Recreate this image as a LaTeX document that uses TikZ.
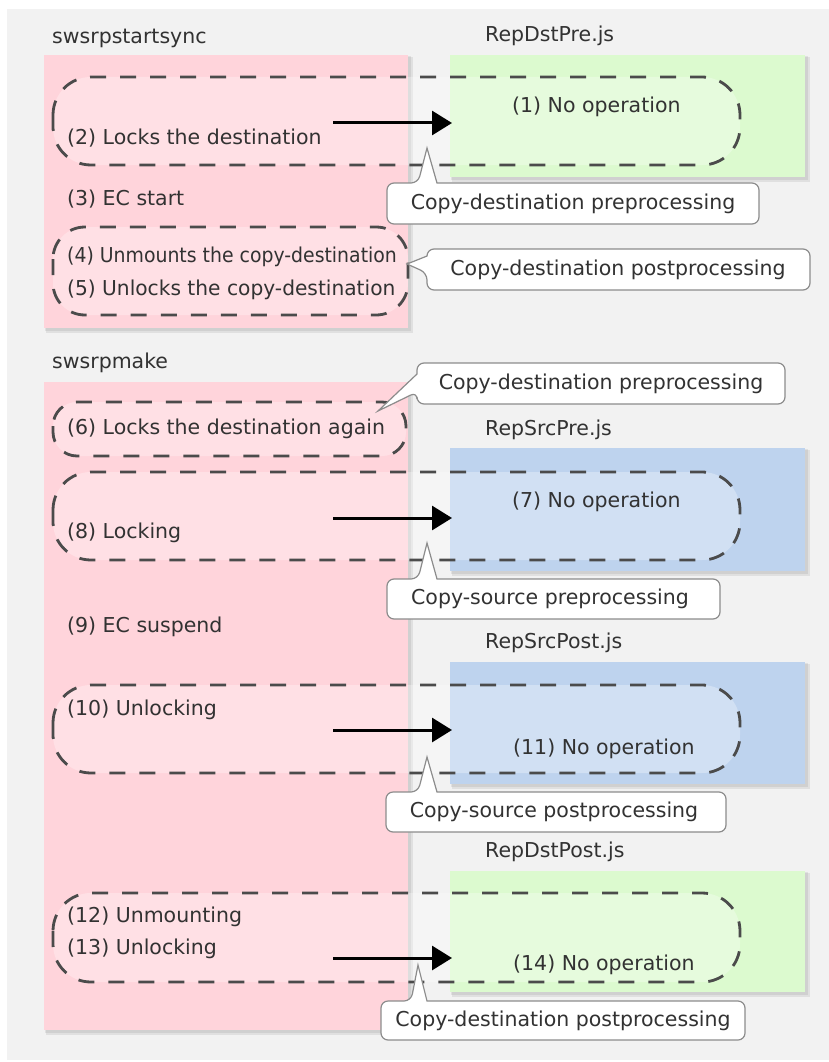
\documentclass[tikz,border=0pt]{standalone}
\usepackage{fontspec}
\setmainfont{DejaVu Sans}
\usetikzlibrary{arrows.meta}
\definecolor{bggray}{RGB}{242,242,242}
\definecolor{pinkc}{RGB}{255,212,219}
\definecolor{greenc}{RGB}{220,250,207}
\definecolor{bluec}{RGB}{190,211,238}
\definecolor{txtc}{RGB}{50,50,50}
\definecolor{dashc}{RGB}{75,75,75}
\definecolor{callc}{RGB}{140,140,140}
\begin{document}
\begin{tikzpicture}[x=1pt,y=-1pt,
  box/.style={draw=none,inner sep=0pt,outer sep=0pt,anchor=north west},
  shad/.style={fill=black,fill opacity=0.07},
  lbl/.style={inner sep=0pt,anchor=west,text=txtc,font=\fontsize{20.5}{24}\selectfont},
  clbl/.style={inner sep=0pt,text=txtc,font=\fontsize{20.5}{24}\selectfont},
  capsule/.style={draw=dashc,line width=2.8pt,dash pattern=on 16pt off 14pt,fill=white,fill opacity=0.3},
  callout/.style={draw=callc,line width=1.2pt,fill=white},
  arr/.style={line width=3pt,-{Triangle[length=20pt,width=24pt]}}
]
\useasboundingbox (0,0) rectangle (829,1062);
\fill[white] (0,0) rectangle (829,1062);
\fill[bggray] (7,9) rectangle (829,1060);

% shadows
\foreach \a/\b/\c/\d in {44/55/408/328, 44/382/408/1030, 450/55/805/177, 450/448/805/571, 450/662/805/784, 450/871/805/992}{
  \fill[shad] (\a+2,\b+2) rectangle (\c+5,\d+5);
  \fill[shad] (\a+1,\b+1) rectangle (\c+3,\d+3);
}

% boxes
\node[box,fill=pinkc,minimum width=364pt,minimum height=273pt] (pk1) at (44,55) {};
\node[box,fill=pinkc,minimum width=364pt,minimum height=648pt] (pk2) at (44,382) {};
\node[box,fill=greenc,minimum width=355pt,minimum height=122pt] (gr1) at (450,55) {};
\node[box,fill=bluec,minimum width=355pt,minimum height=123pt] (bl1) at (450,448) {};
\node[box,fill=bluec,minimum width=355pt,minimum height=122pt] (bl2) at (450,662) {};
\node[box,fill=greenc,minimum width=355pt,minimum height=121pt] (gr2) at (450,871) {};

% titles
\node[lbl] (ttl1) at (52,38) {swsrpstartsync};
\node[lbl] (ttl2) at (485,36) {RepDstPre.js};
\node[lbl] (ttl3) at (52,363) {swsrpmake};
\node[lbl] (ttl4) at (485,430) {RepSrcPre.js};
\node[lbl] (ttl5) at (485,643) {RepSrcPost.js};
\node[lbl] (ttl6) at (485,852) {RepDstPost.js};

% capsules
\draw[capsule,rounded corners=38pt] (53,77) rectangle (740,165);
\draw[capsule,rounded corners=32pt] (53,227) rectangle (408,315);
\draw[capsule,rounded corners=24pt] (53,402) rectangle (406,456);
\draw[capsule,rounded corners=38pt] (53,472) rectangle (740,560);
\draw[capsule,rounded corners=38pt] (53,685) rectangle (740,773);
\draw[capsule,rounded corners=38pt] (53,893) rectangle (740,982);

% texts
\node[lbl] (s2) at (67,138) {(2) Locks the destination};
\node[lbl] (s1) at (512,107) {(1) No operation};
\node[lbl] (s3) at (67,199) {(3) EC start};
\node[lbl] (s4) at (67,257) {\scalebox{0.92}[1]{(4) Unmounts the copy-destination}};
\node[lbl] (s5) at (67,290) {\scalebox{0.985}[1]{(5) Unlocks the copy-destination}};
\node[lbl] (s6) at (67,429) {(6) Locks the destination again};
\node[lbl] (s7) at (512,502) {(7) No operation};
\node[lbl] (s8) at (67,533) {(8) Locking};
\node[lbl] (s9) at (67,627) {(9) EC suspend};
\node[lbl] (s10) at (67,710) {(10) Unlocking};
\node[lbl] (s11) at (513,749) {(11) No operation};
\node[lbl] (s12) at (67,917) {(12) Unmounting};
\node[lbl] (s13) at (67,949) {(13) Unlocking};
\node[lbl] (s14) at (513,965) {(14) No operation};

% arrows
\coordinate (a1s) at (333,123); \coordinate (a1e) at (452,123);
\coordinate (a2s) at (333,518); \coordinate (a2e) at (452,518);
\coordinate (a3s) at (333,730); \coordinate (a3e) at (452,730);
\coordinate (a4s) at (333,958); \coordinate (a4e) at (452,958);
\draw[arr] (a1s) -- (a1e);
\draw[arr] (a2s) -- (a2e);
\draw[arr] (a3s) -- (a3e);
\draw[arr] (a4s) -- (a4e);

% callouts
\filldraw[callout] (437,183) [rounded corners=7pt] -- (759,183) -- (759,224) -- (387,224) -- (387,183) -- (418,183) [sharp corners] -- (427,148) -- cycle;
\node[clbl] (c1) at (573,204) {Copy-destination preprocessing};

\filldraw[callout] (427,256) [rounded corners=7pt] -- (427,249) -- (810,249) -- (810,290) -- (427,290) -- (427,273) [sharp corners] -- (407,264) -- cycle;
\node[clbl] (c2) at (618,270) {Copy-destination postprocessing};

\filldraw[callout] (417,374) [rounded corners=7pt] -- (417,363) -- (785,363) -- (785,404) -- (417,404) -- (417,392) [sharp corners] -- (378,411) -- cycle;
\node[clbl] (c3) at (601,384) {Copy-destination preprocessing};

\filldraw[callout] (437,579) [rounded corners=7pt] -- (720,579) -- (720,619) -- (387,619) -- (387,579) -- (418,579) [sharp corners] -- (427,543) -- cycle;
\node[clbl] (c4) at (550,599) {Copy-source preprocessing};

\filldraw[callout] (437,792) [rounded corners=7pt] -- (726,792) -- (726,832) -- (386,832) -- (386,792) -- (418,792) [sharp corners] -- (427,757) -- cycle;
\node[clbl] (c5) at (554,812) {Copy-source postprocessing};

\filldraw[callout] (427,1001) [rounded corners=7pt] -- (745,1001) -- (745,1040) -- (381,1040) -- (381,1001) -- (411,1001) [sharp corners] -- (418,965) -- cycle;
\node[clbl] (c6) at (563,1021) {Copy-destination postprocessing};
\end{tikzpicture}
\end{document}
